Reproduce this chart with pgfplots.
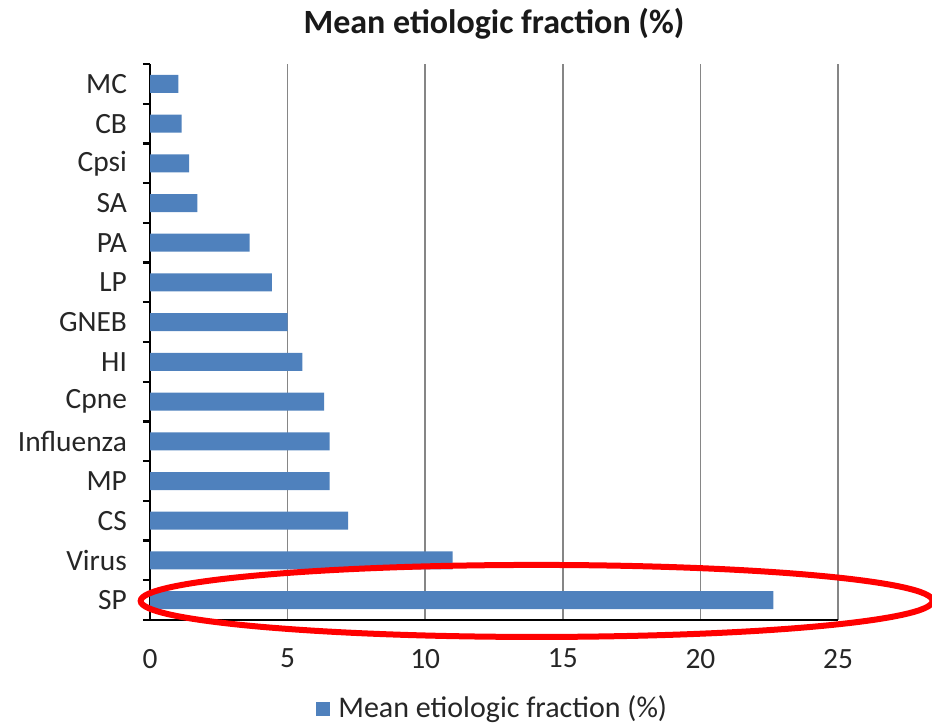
\documentclass[border=0pt]{standalone}
\usepackage{pgfplots}
\pgfplotsset{compat=1.18}
\usepackage{fontspec}
\setmainfont{Carlito}
\definecolor{barblue}{HTML}{4F81BD}
\definecolor{gridgray}{HTML}{868686}
\begin{document}
\begin{tikzpicture}[x=1pt,y=1pt]
\useasboundingbox (0,0) rectangle (466,362);
\begin{axis}[
  at={(75pt,52pt)}, anchor=south west,
  width=344pt, height=278pt, scale only axis,
  xbar, bar width=9pt,
  xmin=0, xmax=25, ymin=-0.5, ymax=13.5,
  xtick={0,5,...,25},
  ytick={0,...,13},
  yticklabels={SP,Virus,CS,MP,Influenza,Cpne,HI,GNEB,LP,PA,SA,Cpsi,CB,MC},
  minor ytick={-0.5,0.5,...,13.5},
  major tick length=0pt,
  minor tick length=3.5pt,
  tick align=outside,
  ytick pos=left, xtick pos=bottom,
  xmajorgrids, major x grid style={gridgray, line width=0.8pt},
  axis x line*=bottom, axis y line*=left,
  x axis line style={black, line width=1.2pt, -},
  y axis line style={black, line width=1.2pt, -},
  minor tick style={black, line width=1.2pt},
  ticklabel style={font=\fontsize{14.7}{17}\selectfont, text=black!85},
  yticklabel style={xshift=-8pt},
  xticklabel style={yshift=-11pt},
  /pgf/number format/assume math mode=true,
  clip=false,
]
\addplot[fill=barblue, draw=none] coordinates {
(22.65,0) (11.0,1) (7.2,2) (6.53,3) (6.53,4) (6.33,5) (5.54,6) (5.0,7) (4.43,8) (3.62,9) (1.72,10) (1.42,11) (1.15,12) (1.03,13)};
\draw[red, line width=3pt] (axis cs:14.05,-0.02) ellipse [x radius=198pt, y radius=18pt];
\end{axis}
\node[font=\fontsize{17}{20}\selectfont\bfseries, text=black!90] at (247,350) {Mean etiologic fraction (\%)};
\fill[barblue] (158,4) rectangle (165,11);
\node[anchor=west, font=\fontsize{15}{18}\selectfont, text=black!85, inner sep=0pt] at (169,7.5) {Mean etiologic fraction (\%)};
\end{tikzpicture}
\end{document}
